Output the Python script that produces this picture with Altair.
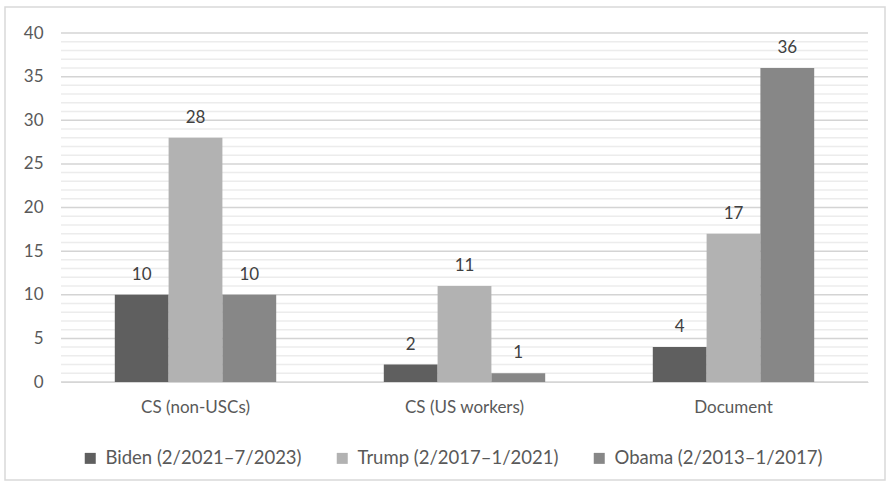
import altair as alt
import pandas as pd

categories = ["CS (non-USCs)", "CS (US workers)", "Document"]
series = ["Biden (2/2021–7/2023)", "Trump (2/2017–1/2021)", "Obama (2/2013–1/2017)"]
biden = [10, 2, 4]
trump = [28, 11, 17]
obama = [10, 1, 36]
colors = ["#5f5f5f", "#b2b2b2", "#878787"]

rows = []
for i, cat in enumerate(categories):
    for name, vals in zip(series, [biden, trump, obama]):
        rows.append({"category": cat, "series": name, "value": vals[i]})
df = pd.DataFrame(rows)

grid = pd.DataFrame({"g": list(range(0, 41))})
grid["major"] = grid["g"] % 5 == 0

FONT = "Lato"
W, H = 807, 349

x_enc = alt.X("category:N", sort=categories, title=None,
              scale=alt.Scale(paddingInner=0.4, paddingOuter=0.2),
              axis=alt.Axis(labelAngle=0, ticks=False, domain=True, domainColor="#d9d9d9",
                            labelFontSize=17, labelColor="#595959", labelFont=FONT,
                            labelPadding=17, grid=False))
y_scale = alt.Scale(domain=[0, 40], nice=False)
y_axis = alt.Axis(values=[0, 5, 10, 15, 20, 25, 30, 35, 40], ticks=False, domain=False,
                  grid=False, labelFontSize=17, labelColor="#595959", labelFont=FONT,
                  labelPadding=18, title=None)

minor = alt.Chart(grid).transform_filter("!datum.major").mark_rule(
    color="#ececec", strokeWidth=1.5).encode(
    y=alt.Y("g:Q", scale=y_scale, axis=y_axis), x=alt.value(0), x2=alt.value(W))
major = alt.Chart(grid).transform_filter("datum.major").mark_rule(
    color="#d4d4d4", strokeWidth=1.5).encode(
    y=alt.Y("g:Q", scale=y_scale, axis=y_axis), x=alt.value(0), x2=alt.value(W))

base = alt.Chart(df).encode(
    x=x_enc,
    xOffset=alt.XOffset("series:N", sort=series),
    y=alt.Y("value:Q", scale=y_scale, axis=y_axis),
)
bars = base.mark_bar().encode(
    color=alt.Color("series:N", sort=series, scale=alt.Scale(domain=series, range=colors),
                    legend=alt.Legend(orient="none", legendX=20, legendY=416, direction="horizontal",
                                      title=None, symbolType="square", symbolSize=121,
                                      symbolStrokeWidth=0, labelFontSize=18.5, labelFont=FONT,
                                      labelColor="#595959", columnPadding=31, labelOffset=6,
                                      labelLimit=0)))
labels = base.mark_text(dy=-20, fontSize=17, font=FONT, color="#404040").encode(
    text=alt.Text("value:Q"))

border = alt.Chart(pd.DataFrame({"a": [0]})).mark_rect(
    fill=None, stroke="#d9d9d9", strokeWidth=1.5).encode(
    x=alt.value(-56), x2=alt.value(W + 17), y=alt.value(-26), y2=alt.value(H + 98))

chart = alt.layer(border, minor, major, bars, labels).properties(
    width=W, height=H,
    autosize=alt.AutoSizeParams(type="none"),
    padding={"left": 61, "top": 33, "right": 19, "bottom": 105},
    background="white",
).configure_view(stroke=None)

chart.save("out.html", embed_options={"renderer": "svg", "actions": False})
